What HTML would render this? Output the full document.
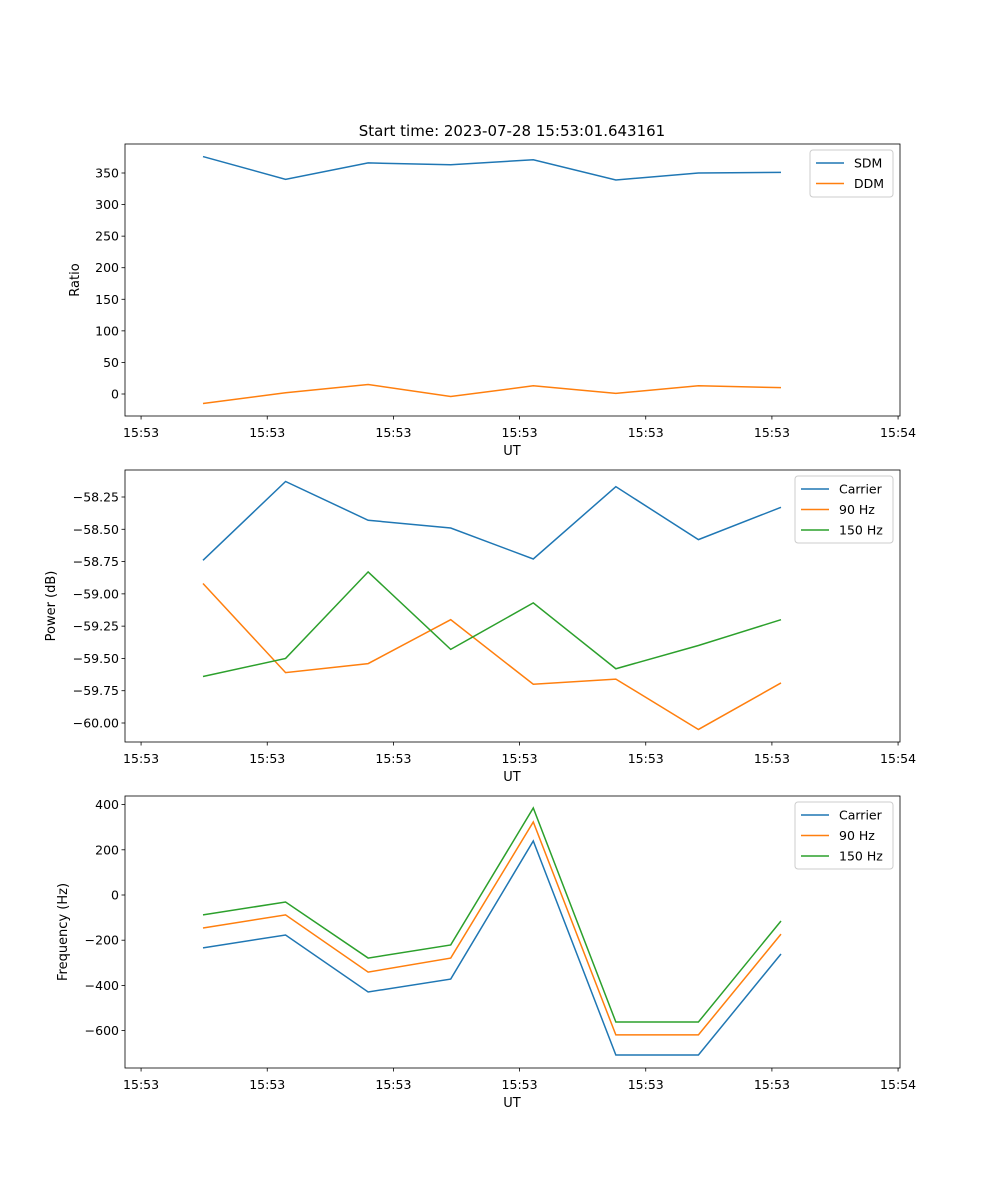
<!DOCTYPE html>
<html><head><meta charset="utf-8"><style>
body{margin:0;background:#fff}
svg{display:block;font-family:"DejaVu Sans","Liberation Sans",sans-serif}
</style></head><body>
<svg id="fig" width="1000" height="1200"></svg>
<script>
const pointIndex=[0,1,2,3,4,5,6,7];
const xTickPos=[-0.75,0.778,2.306,3.834,5.362,6.89,8.418];
const xTickLabels=["15:53","15:53","15:53","15:53","15:53","15:53","15:54"];
const sdm=[376,340,366,363,371,339,350,351];
const ddm=[-15,2,15,-4,13,1,13,10];
const pCarrier=[-58.74,-58.13,-58.43,-58.49,-58.73,-58.17,-58.58,-58.33];
const p90=[-58.92,-59.61,-59.54,-59.20,-59.70,-59.66,-60.05,-59.69];
const p150=[-59.64,-59.50,-58.83,-59.43,-59.07,-59.58,-59.40,-59.20];
const fCarrier=[-234,-177,-429,-372,239,-708,-708,-261];
const f90=[-146,-88,-341,-279,323,-619,-619,-173];
const f150=[-88,-31,-279,-221,385,-562,-562,-115];
const yTicks1=[0,50,100,150,200,250,300,350];
const yTicks2=[-60.00,-59.75,-59.50,-59.25,-59.00,-58.75,-58.50,-58.25];
const yTicks3=[-600,-400,-200,0,200,400];

const NS="http://www.w3.org/2000/svg";
const svg=document.getElementById('fig');
function el(t,a,p){const e=document.createElementNS(NS,t);for(const k in a)e.setAttribute(k,a[k]);(p||svg).appendChild(e);return e;}
const L=125,R=900;
const xs=v=>203+(v)*82.57;
const C=['#1f77b4','#ff7f0e','#2ca02c'];
function panel(top,bot,name,ylab,yScale,yTicks,fmt,series,names,legW){
  const g=el('g',{});
  
  
  xTickPos.forEach((v,i)=>{const x=xs(v);
    el('line',{x1:x,x2:x,y1:bot,y2:bot+3.5,stroke:'#000','stroke-width':0.8},g);
    const t=el('text',{x:x,y:bot+21,'text-anchor':'middle','font-size':12.5},g);t.textContent=xTickLabels[i];
    });
  yTicks.forEach(v=>{const y=yScale(v);
    el('line',{x1:L-3.5,x2:L,y1:y,y2:y,stroke:'#000','stroke-width':0.8},g);
    const t=el('text',{x:L-6,y:y+4.5,'text-anchor':'end','font-size':12.5},g);t.textContent=fmt(v);
    });
  series.forEach((s,i)=>{
    const p=el('polyline',{points:s.map((v,j)=>xs(pointIndex[j])+','+yScale(v)).join(' '),fill:'none',stroke:C[i],'stroke-width':1.5},g);
    
    });
  el('rect',{x:L,y:top,width:R-L,height:bot-top,fill:'none',stroke:'#000','stroke-width':0.8},g);
  const xl=el('text',{x:512,y:bot+39,'text-anchor':'middle','font-size':13},g);xl.textContent='UT';
  
  const ym=(top+bot)/2;
  const yl=el('text',{x:0,y:0,'text-anchor':'middle','font-size':13,transform:`translate(${name==='ratio-panel'?79:name==='power-panel'?55:67},${ym}) rotate(-90)`},g);yl.textContent=ylab;
  
  const lg=el('g',{},g);
  const lx=R-7-legW,ly=top+6;
  el('rect',{x:lx,y:ly,width:legW,height:7+names.length*20,rx:3,fill:'#fff',stroke:'#ccc'},lg);
  names.forEach((n,i)=>{const y=ly+13+i*20.5;
    el('line',{x1:lx+6,x2:lx+34,y1:y,y2:y,stroke:C[i],'stroke-width':1.5},lg);
    const t=el('text',{x:lx+44,y:y+4.5,'font-size':12.5},lg);t.textContent=n;
    });
}
const t=el('text',{x:512,y:136,'text-anchor':'middle','font-size':15});t.textContent='Start time: 2023-07-28 15:53:01.643161';

panel(144,416,'ratio-panel','Ratio',v=>394-v*221/350,yTicks1,v=>String(v),[sdm,ddm],['SDM','DDM'],83);
panel(470,742,'power-panel','Power (dB)',v=>723-(v+60)*226/1.75,yTicks2,v=>v.toFixed(2).replace('-','−'),[pCarrier,p90,p150],['Carrier','90 Hz','150 Hz'],98);
panel(796,1068,'frequency-panel','Frequency (Hz)',v=>895-v*0.226,yTicks3,v=>String(v).replace('-','−'),[fCarrier,f90,f150],['Carrier','90 Hz','150 Hz'],98);
</script>
</body></html>
